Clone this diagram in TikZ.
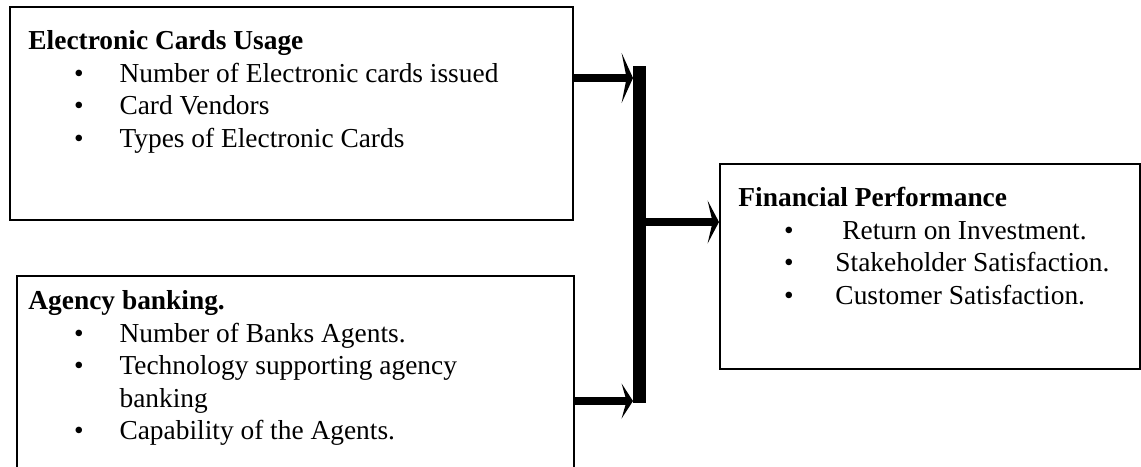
\documentclass[tikz,border=0pt]{standalone}
\usepackage{fontspec}
\setmainfont{Liberation Serif}
\usetikzlibrary{arrows.meta}
\tikzset{
  panel/.style={draw=black, line width=0.9pt, inner sep=0pt, anchor=north west},
  paneltext/.style={anchor=base west, inner sep=0pt, align=left, font=\fontsize{12}{14.2}\selectfont},
  flow/.style={line width=3.8pt, -{Stealth[length=5pt, width=#1, inset=2.2pt]}}
}
\newcommand{\bulletitem}[2][19.9pt]{\hspace*{20pt}\makebox[#1][l]{\textbullet}#2}

\begin{document}
\begin{tikzpicture}[x=0.438pt, y=-0.438pt]
\clip (0,0) rectangle (1141,466);
% the three boxes
\node[panel, minimum width=246.6pt, minimum height=93.3pt] (cards) at (9,6) {};
\node[panel, minimum width=244pt, minimum height=89.8pt] (agency) at (16,275) {};
\node[panel, minimum width=184pt, minimum height=89.8pt] (perf) at (719,163) {};
% texts sit on the baseline of their last line
\node[paneltext] (cardstext) at (28,147) {\textbf{Electronic Cards Usage}\\
  \bulletitem{Number of Electronic cards issued}\\
  \bulletitem{Card Vendors}\\
  \bulletitem{Types of Electronic Cards}};
\node[paneltext] (agencytext) at (28,439.5) {\textbf{Agency banking.}\\
  \bulletitem{Number of Banks Agents.}\\
  \bulletitem{Technology supporting agency}\\
  \hspace*{39.9pt}banking\\
  \bulletitem{Capability of the Agents.}};
\node[paneltext] (perftext) at (738,304) {\textbf{Financial Performance}\\
  \bulletitem[22.5pt]{\ Return on Investment.}\\
  \bulletitem[22.5pt]{Stakeholder Satisfaction.}\\
  \bulletitem[22.5pt]{Customer Satisfaction.}};
% thick bar and arrows
\node[fill=black, inner sep=0pt, minimum width=5.3pt, minimum height=147.2pt, anchor=north west] (bar) at (633,66) {};
\coordinate (r1) at (0,78);
\coordinate (r2) at (0,222);
\coordinate (r3) at (0,401);
\draw[flow=22pt] (cards.east |- r1) -- (bar.west |- r1);
\draw[flow=18.8pt] (bar.east |- r2) -- (perf.west |- r2);
\draw[flow=15.3pt] (agency.east |- r3) -- (bar.west |- r3);
\end{tikzpicture}
\end{document}
